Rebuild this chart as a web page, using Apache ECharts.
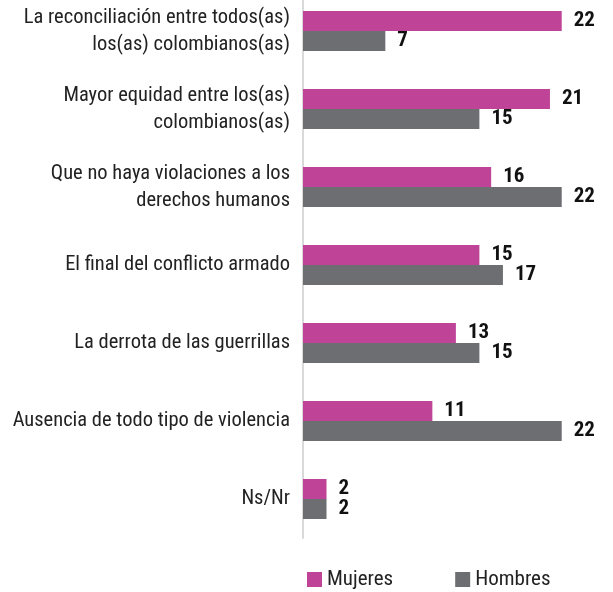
<!DOCTYPE html>
<html>
<head>
<meta charset="utf-8">
<script src="https://cdn.jsdelivr.net/npm/echarts@6/dist/echarts.min.js"></script>
<style>
  html, body { margin: 0; padding: 0; background: #fff; overflow: hidden; }
  /* the plot starts a little above the page edge, so the box is pulled up */
  #chart { width: 613px; height: 600px; position: absolute; left: 0; top: -8px; }
</style>
</head>
<body>
<div id="chart"></div>
<script>
// categorias (de arriba hacia abajo)
var categories = [
  "La reconciliación entre todos(as)\nlos(as) colombianos(as)",
  "Mayor equidad entre los(as)\ncolombianos(as)",
  "Que no haya violaciones a los\nderechos humanos",
  "El final del conflicto armado",
  "La derrota de las guerrillas",
  "Ausencia de todo tipo de violencia",
  "Ns/Nr"
];
var mujeres = [22, 21, 16, 15, 13, 11, 2];
var hombres = [7, 15, 22, 17, 15, 22, 2];

var FONT = '"Liberation Sans Narrow", "Roboto Condensed", "Liberation Sans", sans-serif';

var myChart = echarts.init(document.getElementById("chart"));
var option = {
  animation: false,
  grid: {
    left: 303,
    top: 0,
    width: 294,
    height: 546,
    containLabel: false
  },
  legend: {
    data: ["Mujeres", "Hombres"],
    left: 302,
    top: 572,
    itemWidth: 15,
    itemHeight: 15,
    itemGap: 62,
    icon: "rect",
    textStyle: { fontFamily: FONT, fontSize: 21, color: "#222" }
  },
  xAxis: {
    type: "value",
    min: 0,
    max: 25,
    show: false
  },
  yAxis: {
    type: "category",
    inverse: true,
    data: categories,
    axisLine: { show: true, lineStyle: { color: "#d9d9d9", width: 2 } },
    axisTick: { show: false },
    axisLabel: {
      margin: 13,
      fontFamily: FONT,
      fontSize: 20.5,
      lineHeight: 27,
      color: "#222",
      align: "right"
    }
  },
  series: [
    {
      name: "Mujeres",
      type: "bar",
      data: mujeres,
      barGap: 0,
      barCategoryGap: "48.7%",
      itemStyle: { color: "#bf4397" },
      label: {
        show: true,
        position: "right",
        distance: 12,
        fontFamily: FONT,
        fontWeight: "bold",
        fontSize: 21,
        color: "#111"
      }
    },
    {
      name: "Hombres",
      type: "bar",
      data: hombres,
      barGap: 0,
      barCategoryGap: "48.7%",
      itemStyle: { color: "#6d6e71" },
      label: {
        show: true,
        position: "right",
        distance: 12,
        fontFamily: FONT,
        fontWeight: "bold",
        fontSize: 21,
        color: "#111"
      }
    }
  ]
};
myChart.setOption(option);
</script>
</body>
</html>
